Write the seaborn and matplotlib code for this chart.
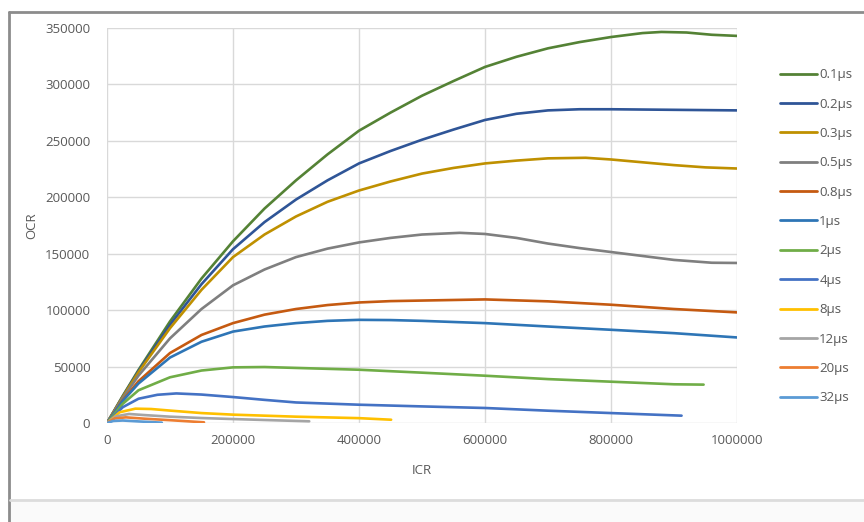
import numpy as np
import pandas as pd
import matplotlib
matplotlib.use("Agg")
import matplotlib.pyplot as plt
import seaborn as sns
from matplotlib.lines import Line2D

# Dead-time series: ICR (x) vs OCR (y)
labels = ["0.1µs", "0.2µs", "0.3µs", "0.5µs", "0.8µs", "1µs",
          "2µs", "4µs", "8µs", "12µs", "20µs", "32µs"]
colors = ["#548235", "#2F5597", "#BF9000", "#7F7F7F", "#C55A11", "#2E75B6",
          "#70AD47", "#4472C4", "#FFC000", "#A5A5A5", "#ED7D31", "#5B9BD5"]

icr_01 = [0, 25000, 50000, 100000, 150000, 200000, 250000, 300000, 350000, 400000, 450000,
          500000, 550000, 600000, 650000, 700000, 750000, 800000, 850000, 880000, 920000, 960000, 1000000]
ocr_01 = [0, 24000, 47000, 90000, 128000, 161000, 190000, 215000, 238000, 259000, 275000,
          290000, 303000, 315500, 324500, 332000, 337500, 342000, 345500, 346500, 346000, 344000, 343000]

icr_02 = [0, 25000, 50000, 100000, 150000, 200000, 250000, 300000, 350000, 400000, 450000,
          500000, 550000, 600000, 650000, 700000, 750000, 800000, 900000, 1000000]
ocr_02 = [0, 23500, 46000, 87000, 123000, 154000, 178000, 198000, 215000, 230000, 241000,
          251000, 260000, 268500, 274000, 277000, 278000, 278000, 277500, 277000]

icr_03 = [0, 25000, 50000, 100000, 150000, 200000, 250000, 300000, 350000, 400000, 450000,
          500000, 550000, 600000, 650000, 700000, 760000, 800000, 850000, 900000, 950000, 1000000]
ocr_03 = [0, 23000, 45000, 84000, 118000, 147000, 167000, 183000, 196000, 206000, 214000,
          221000, 226000, 230000, 232500, 234500, 235000, 233500, 231000, 228500, 226500, 225500]

icr_05 = [0, 25000, 50000, 100000, 150000, 200000, 250000, 300000, 350000, 400000, 450000,
          500000, 560000, 600000, 650000, 700000, 750000, 800000, 850000, 900000, 960000, 1000000]
ocr_05 = [0, 22000, 42000, 75000, 101000, 122000, 136000, 147000, 154500, 160000, 164000,
          167000, 168500, 167500, 164000, 159000, 155000, 151500, 148000, 144500, 142000, 141800]

icr_08 = [0, 25000, 50000, 100000, 150000, 200000, 250000, 300000, 350000, 400000, 450000,
          500000, 600000, 700000, 800000, 900000, 1000000]
ocr_08 = [0, 20000, 37000, 62000, 78000, 88500, 96000, 101000, 104500, 106800, 108000,
          108500, 109500, 107800, 104800, 101000, 98000]

icr_1 = [0, 25000, 50000, 100000, 150000, 200000, 250000, 300000, 350000, 400000, 450000,
         500000, 600000, 700000, 800000, 900000, 1000000]
ocr_1 = [0, 19500, 35000, 58000, 72000, 81000, 85500, 88500, 90500, 91400, 91200,
         90500, 88500, 85500, 82600, 79600, 75800]

icr_2 = [0, 25000, 50000, 100000, 150000, 200000, 250000, 300000, 400000, 500000,
         600000, 700000, 800000, 900000, 947000]
ocr_2 = [0, 17000, 29000, 40500, 46500, 49300, 49600, 48800, 47200, 44600,
         41900, 38900, 36600, 34300, 34000]

icr_4 = [0, 25000, 50000, 80000, 110000, 150000, 200000, 250000, 300000, 400000, 500000,
         600000, 700000, 800000, 912000]
ocr_4 = [0, 14000, 21500, 25000, 26200, 25200, 23000, 20500, 18200, 16200, 14700,
         13300, 10900, 8800, 6500]

icr_8 = [0, 20000, 45000, 70000, 100000, 150000, 200000, 300000, 400000, 451000]
ocr_8 = [0, 9500, 12700, 12400, 11000, 8800, 7400, 5600, 4300, 2900]

icr_12 = [0, 15000, 35000, 60000, 100000, 150000, 200000, 260000, 321000]
ocr_12 = [0, 6000, 8000, 7000, 5600, 4400, 3500, 2500, 1500]

icr_20 = [0, 12000, 30000, 60000, 100000, 154000]
ocr_20 = [0, 4000, 5000, 3800, 2500, 600]

icr_32 = [0, 10000, 25000, 50000, 87000]
ocr_32 = [0, 1800, 2200, 1400, 300]

series_x = [icr_01, icr_02, icr_03, icr_05, icr_08, icr_1,
            icr_2, icr_4, icr_8, icr_12, icr_20, icr_32]
series_y = [ocr_01, ocr_02, ocr_03, ocr_05, ocr_08, ocr_1,
            ocr_2, ocr_4, ocr_8, ocr_12, ocr_20, ocr_32]

frames = []
for lab, xs, ys in zip(labels, series_x, series_y):
    frames.append(pd.DataFrame({"ICR": xs, "OCR": ys, "series": lab}))
df = pd.concat(frames, ignore_index=True)

sns.set_style("white")
plt.rcParams["font.family"] = ["Open Sans", "DejaVu Sans"]

fig = plt.figure(figsize=(8.64, 5.22), dpi=100)
fig.patch.set_facecolor("white")

# outer chart frame
W, H = 864, 522
fig.add_artist(Line2D([9 / W, 9 / W], [0, 1 - 12 / H], color="#8c8c8c", lw=2.0))
fig.add_artist(Line2D([9 / W, 1], [1 - 12 / H, 1 - 12 / H], color="#8c8c8c", lw=2.0))
fig.add_artist(Line2D([10 / W, 1], [1 - 500 / H, 1 - 500 / H], color="#dcdcdc", lw=2.0))
fig.add_artist(plt.Rectangle((10 / W, 0), 1, 1 - 501 / H, color="#fafafa", zorder=-1))

ax = fig.add_axes([107 / W, 1 - 423 / H, 630 / W, 395 / H])
palette = dict(zip(labels, colors))
sns.lineplot(data=df, x="ICR", y="OCR", hue="series", palette=palette,
             hue_order=labels, sort=False, estimator=None, lw=1.9, ax=ax, legend=False)

ax.set_xlim(0, 1000000)
ax.set_ylim(0, 350000)
ax.set_xticks(np.arange(0, 1000001, 200000))
ax.set_yticks(np.arange(0, 350001, 50000))
ax.ticklabel_format(style="plain", useOffset=False)
ax.grid(True, color="#d9d9d9", lw=1.0)
for s in ax.spines.values():
    s.set_visible(False)
ax.tick_params(axis="y", length=0, labelsize=9.5, colors="#595959", pad=12)
ax.tick_params(axis="x", length=0, labelsize=9.5, colors="#595959", pad=8)
ax.set_xlabel("ICR", fontsize=9.5, color="#595959", labelpad=12)
ax.set_ylabel("OCR", fontsize=9.5, color="#595959", labelpad=5)

handles = [Line2D([0], [0], color=c, lw=2.0) for c in colors]
fig.legend(handles, labels, loc="upper left", bbox_to_anchor=(775 / W, 1 - 63 / H),
           frameon=False, fontsize=9.5, labelcolor="#595959", handlelength=2.75,
           handletextpad=0.2, labelspacing=1.24, borderaxespad=0)

fig.savefig("out.png", dpi=100)
